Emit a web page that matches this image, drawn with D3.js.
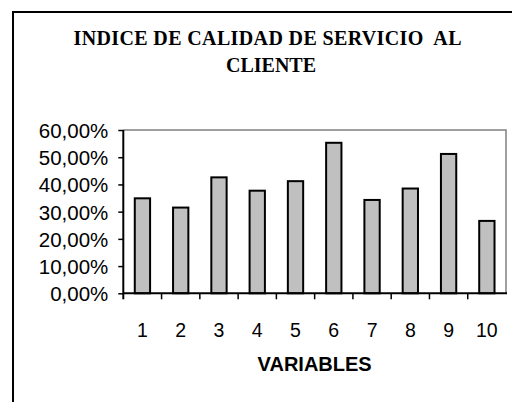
<!DOCTYPE html>
<html><head><meta charset="utf-8">
<script src="https://cdn.jsdelivr.net/npm/d3@7"></script>
<style>html,body{margin:0;padding:0;background:#fff;}svg{display:block;}</style>
</head><body>
<script>
const categories = ["1","2","3","4","5","6","7","8","9","10"];
const values = [0.349, 0.315, 0.426, 0.377, 0.412, 0.553, 0.343, 0.385, 0.512, 0.266];
const yTicks = [0, 0.1, 0.2, 0.3, 0.4, 0.5, 0.6];
const titleLines = ["INDICE DE CALIDAD DE SERVICIO  AL", "CLIENTE"];
const xTitle = "VARIABLES";

(function () {
const W = 512, H = 402;
const svg = d3.select("body").append("svg").attr("width", W).attr("height", H);

// outer chart border (left + top visible)
svg.append("path").attr("d", "M13,403V12H513").attr("fill", "none")
  .attr("stroke", "#000").attr("stroke-width", 2);

const pL = 123.3, pR = 506, pT = 130, pB = 293.3;
const y = d3.scaleLinear().domain([0, 0.6]).range([pB, pT]);
const xb = d3.scaleBand().domain(categories).range([pL, pR]).paddingInner(0.6).paddingOuter(0.3);
const xo = d3.scaleBand().domain(categories).range([pL, pR]).padding(0);

// plot area border (gray top & right)
svg.append("path").attr("d", `M${pL},${pT}H${pR}V${pB}`).attr("fill", "none")
  .attr("stroke", "#808080").attr("stroke-width", 1.5);

// bars
svg.selectAll("rect.bar").data(values).enter().append("rect")
  .attr("x", (d, i) => xb(categories[i]))
  .attr("y", d => y(d))
  .attr("width", xb.bandwidth())
  .attr("height", d => y(0) - y(d))
  .attr("fill", "#c0c0c0").attr("stroke", "#000").attr("stroke-width", 2);

// y axis
const fmt = v => (v * 100).toFixed(2).replace(".", ",") + "%";
const yAxis = d3.axisLeft(y).tickValues(yTicks).tickFormat(fmt).tickSize(5).tickPadding(10);
const gy = svg.append("g").attr("transform", `translate(${pL},0)`).call(yAxis);
gy.select(".domain").attr("stroke", "#000").attr("stroke-width", 2).attr("d", `M0,${pT}V${pB + 6}`);
gy.selectAll(".tick line").attr("stroke", "#000").attr("stroke-width", 1.5);
gy.selectAll(".tick text").attr("font-family", "Liberation Sans, Arial, sans-serif")
  .attr("font-size", 20.5).attr("fill", "#000").attr("dy", "0.36em");

// x axis
const gx = svg.append("g").attr("transform", `translate(0,${pB})`);
gx.append("line").attr("x1", pL).attr("x2", pR + 1).attr("y1", 0).attr("y2", 0)
  .attr("stroke", "#000").attr("stroke-width", 2);
const tickPos = categories.map(c => xo(c) + xo.bandwidth()).slice(0, -1);
gx.selectAll("line.t").data(tickPos).enter().append("line")
  .attr("x1", d => d).attr("x2", d => d).attr("y1", 0).attr("y2", 6)
  .attr("stroke", "#000").attr("stroke-width", 1.5);
gx.selectAll("text").data(categories).enter().append("text")
  .attr("x", d => xb(d) + xb.bandwidth() / 2).attr("y", 44)
  .attr("text-anchor", "middle").attr("font-family", "Liberation Sans, Arial, sans-serif")
  .attr("font-size", 19.5).attr("fill", "#000").text(d => d);

// x title
svg.append("text").attr("x", (pL + pR) / 2).attr("y", 371).attr("text-anchor", "middle")
  .attr("font-family", "Liberation Sans, Arial, sans-serif").attr("font-weight", "bold")
  .attr("font-size", 20).text(xTitle);

// chart title
svg.append("text").attr("x", 267.5).attr("y", 45).attr("text-anchor", "middle")
  .attr("font-family", "Liberation Serif, Times New Roman, serif").attr("font-weight", "bold")
  .attr("font-size", 20).attr("textLength", 388).attr("lengthAdjust", "spacing")
  .style("white-space", "pre").text(titleLines[0]);
svg.append("text").attr("x", 271).attr("y", 71.5).attr("text-anchor", "middle")
  .attr("font-family", "Liberation Serif, Times New Roman, serif").attr("font-weight", "bold")
  .attr("font-size", 20).text(titleLines[1]);
})();
</script>
</body></html>
